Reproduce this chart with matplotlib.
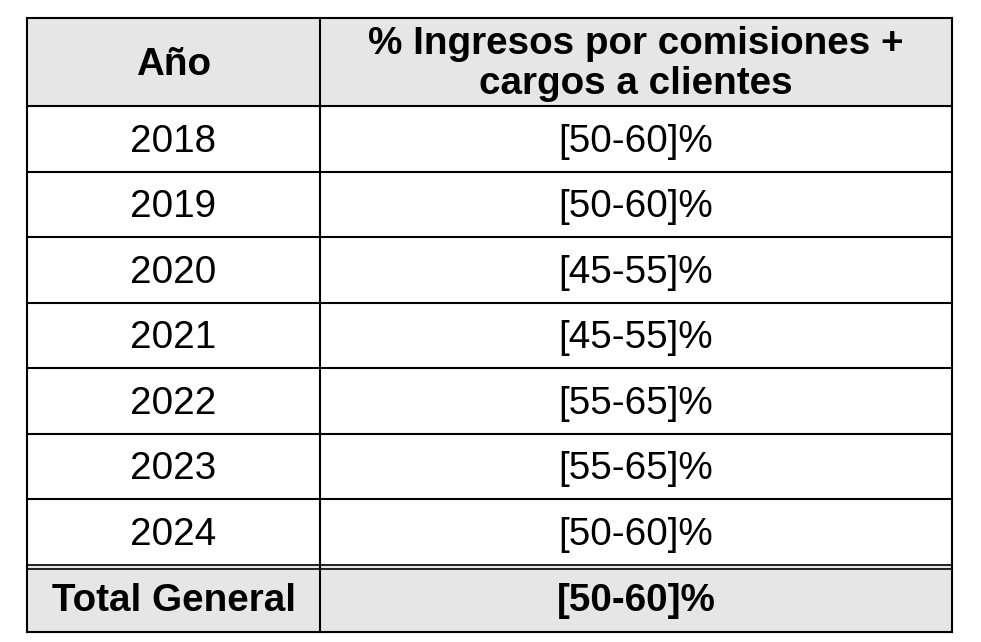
import matplotlib
matplotlib.use("Agg")
import matplotlib.pyplot as plt
from matplotlib.patches import Rectangle

header = ["Año", "% Ingresos por comisiones +\ncargos a clientes"]
years = ["2018", "2019", "2020", "2021", "2022", "2023", "2024"]
ranges = ["[50-60]%", "[50-60]%", "[45-55]%", "[45-55]%", "[55-65]%", "[55-65]%", "[50-60]%"]
total_label = "Total General"
total_value = "[50-60]%"

fig = plt.figure(figsize=(9.81, 6.42), dpi=100)
ax = fig.add_axes([0, 0, 1, 1])
ax.set_xlim(0, 981); ax.set_ylim(642, 0); ax.axis("off")

L, M, R = 27, 320, 952
top, hb = 18, 106
rh = 65.5
row_y = [hb + i * rh for i in range(len(years) + 1)]
tot_top = row_y[-1]
bottom = 632
gray = "#e6e6e6"
fp = dict(family="Liberation Sans", fontsize=27.8)

ax.add_patch(Rectangle((L, top), R - L, hb - top, color=gray, zorder=0))
ax.add_patch(Rectangle((L, tot_top), R - L, bottom - tot_top, color=gray, zorder=0))

ax.text((L + M) / 2, (top + hb) / 2 + 3, header[0], ha="center", va="center", weight="bold", **fp)
ax.text((M + R) / 2, (top + hb) / 2 + 2, header[1], ha="center", va="center", weight="bold",
        linespacing=1.12, **fp)
for i, (y, r) in enumerate(zip(years, ranges)):
    cy = row_y[i] + rh / 2 + 3
    ax.text((L + M) / 2, cy, y, ha="center", va="center", **fp)
    ax.text((M + R) / 2, cy, r, ha="center", va="center", **fp)
cy = (tot_top + bottom) / 2 + 3
ax.text((L + M) / 2, cy, total_label, ha="center", va="center", weight="bold", **fp)
ax.text((M + R) / 2, cy, total_value, ha="center", va="center", weight="bold", **fp)

lw = 1.5
for y in [top] + row_y[:-1] + [bottom]:
    ax.plot([L, R], [y, y], color="black", lw=lw)
ax.plot([L, R], [tot_top, tot_top], color="black", lw=1.2)
ax.plot([L, R], [tot_top + 4, tot_top + 4], color="black", lw=1.2)
for x in (L, M, R):
    ax.plot([x, x], [top, bottom], color="black", lw=lw)

fig.savefig("out.png", dpi=100)
